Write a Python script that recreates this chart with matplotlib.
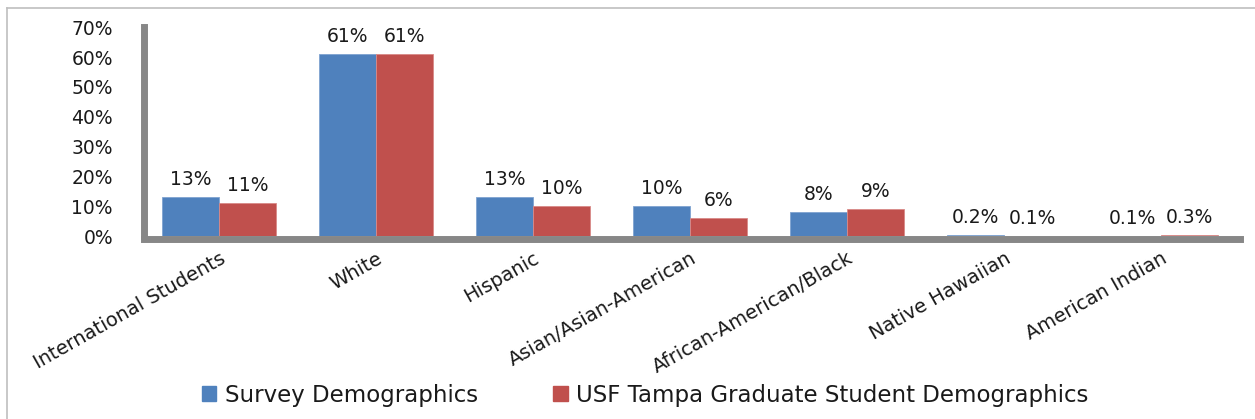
import matplotlib
matplotlib.use("Agg")
import matplotlib.pyplot as plt
import matplotlib.transforms as mtransforms
from matplotlib.lines import Line2D
import numpy as np

categories = ["International Students", "White", "Hispanic", "Asian/Asian-American",
              "African-American/Black", "Native Hawaiian", "American Indian"]
survey = [13, 61, 13, 10, 8, 0.2, 0.1]
usf = [11, 61, 10, 6, 9, 0.1, 0.3]
survey_labels = ["13%", "61%", "13%", "10%", "8%", "0.2%", "0.1%"]
usf_labels = ["11%", "61%", "10%", "6%", "9%", "0.1%", "0.3%"]
yticks = [0, 10, 20, 30, 40, 50, 60, 70]
ytick_labels = ["0%", "10%", "20%", "30%", "40%", "50%", "60%", "70%"]
series_names = ["Survey Demographics", "USF Tampa Graduate Student Demographics"]

plt.rcParams['font.family'] = ['DejaVu Sans']

W, H = 1255, 419
fig = plt.figure(figsize=(W / 100, H / 100), dpi=100)

left = 143.5 / W
right = 1239.5 / W
bottom = 1 - 236 / H
top = 1 - 27.4 / H
ax = fig.add_axes([left, bottom, right - left, top - bottom])

x = np.arange(len(categories))
bw = 0.363
blue = "#4F81BD"
red = "#C0504D"
ax.bar(x - bw / 2, survey, bw, color=blue, edgecolor="#7FA3D0", linewidth=0.6, zorder=2)
ax.bar(x + bw / 2, usf, bw, color=red, edgecolor="#D98A88", linewidth=0.6, zorder=2)

ax.set_xlim(-0.48, 6.5)
ax.set_ylim(0, 70)

txt_col = "#1a1a1a"
fs = 13.5
for i in range(len(categories)):
    ax.annotate(survey_labels[i], xy=(x[i] - bw / 2, survey[i]), xytext=(0, 8.6),
                textcoords="offset points", ha="center", va="baseline",
                fontsize=fs, color=txt_col)
    ax.annotate(usf_labels[i], xy=(x[i] + bw / 2, usf[i]), xytext=(0, 8.6),
                textcoords="offset points", ha="center", va="baseline",
                fontsize=fs, color=txt_col)

ax.set_yticks(yticks)
ax.set_yticklabels(ytick_labels, fontsize=fs, color=txt_col)
ax.tick_params(axis="y", length=0, pad=22)

# category labels, rotated, anchored at upper-right end below each category
ax.set_xticks(x)
ax.set_xticklabels([""] * len(categories))
ax.tick_params(axis="x", length=0)
trans = mtransforms.blended_transform_factory(ax.transData, ax.transAxes)
for i, c in enumerate(categories):
    ax.annotate(c, xy=(x[i], 0), xycoords=trans, xytext=(5, -21),
                textcoords="offset pixels", rotation=29.5, rotation_mode="anchor",
                ha="right", va="center", fontsize=14, color=txt_col,
                annotation_clip=False)

for s in ["top", "right"]:
    ax.spines[s].set_visible(False)
spine_col = "#878787"
ax.spines["left"].set_color(spine_col)
ax.spines["left"].set_linewidth(5)
ax.spines["bottom"].set_color(spine_col)
ax.spines["bottom"].set_linewidth(5)
ax.spines["bottom"].set_position(("outward", 2.5))
ax.spines["bottom"].set_zorder(3)
ax.spines["left"].set_zorder(3)

# legend
handles = [plt.Rectangle((0, 0), 1, 1, color=blue), plt.Rectangle((0, 0), 1, 1, color=red)]
leg = fig.legend(handles, series_names, loc="center", bbox_to_anchor=(0.514, 1 - 395 / H),
                 ncol=2, frameon=False, fontsize=16.5, handlelength=0.65, handleheight=0.65,
                 handletextpad=0.35, columnspacing=3.3)
for t in leg.get_texts():
    t.set_color(txt_col)

# chart border (top and left)
fig.add_artist(Line2D([7 / W, 1.0], [1 - 8.5 / H, 1 - 8.5 / H], transform=fig.transFigure,
                      color="#BFBFBF", linewidth=1.2))
fig.add_artist(Line2D([7 / W, 7 / W], [0, 1 - 8.5 / H], transform=fig.transFigure,
                      color="#BFBFBF", linewidth=1.2))

fig.savefig("out.png", dpi=100)
